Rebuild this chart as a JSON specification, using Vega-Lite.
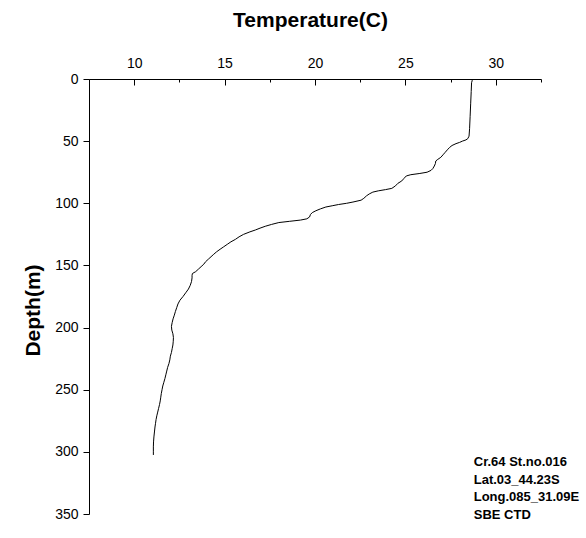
{
  "$schema": "https://vega.github.io/schema/vega-lite/v6.json",
  "width": 452,
  "height": 435,
  "autosize": {"type": "none"},
  "padding": {"left": 89, "top": 79, "right": 45, "bottom": 24},
  "background": "white",
  "config": {
    "view": {"stroke": null},
    "font": "Liberation Sans",
    "axis": {
      "domainColor": "black",
      "domainWidth": 1,
      "tickColor": "black",
      "tickWidth": 1,
      "tickRound": true,
      "labelColor": "black",
      "labelFont": "Liberation Sans",
      "labelFontSize": 14,
      "titleColor": "black",
      "titleFont": "Liberation Sans",
      "titleFontWeight": "bold",
      "titleFontSize": 21,
      "grid": false
    }
  },
  "datasets": {
    "profile": [
      {"depth": 0, "temp": 28.76}, {"depth": 1, "temp": 28.7}, {"depth": 3, "temp": 28.66},
      {"depth": 10, "temp": 28.64}, {"depth": 20, "temp": 28.61}, {"depth": 30, "temp": 28.58},
      {"depth": 40, "temp": 28.55}, {"depth": 46, "temp": 28.52}, {"depth": 48, "temp": 28.45},
      {"depth": 49, "temp": 28.35}, {"depth": 50, "temp": 28.15}, {"depth": 51, "temp": 28.0},
      {"depth": 52, "temp": 27.8}, {"depth": 53.5, "temp": 27.58}, {"depth": 55, "temp": 27.45},
      {"depth": 57, "temp": 27.32}, {"depth": 59, "temp": 27.2}, {"depth": 61, "temp": 27.08},
      {"depth": 63, "temp": 26.96}, {"depth": 65, "temp": 26.76}, {"depth": 66, "temp": 26.68},
      {"depth": 68, "temp": 26.66}, {"depth": 70, "temp": 26.6}, {"depth": 72, "temp": 26.52},
      {"depth": 73.5, "temp": 26.42}, {"depth": 75, "temp": 26.2}, {"depth": 76, "temp": 25.8},
      {"depth": 77, "temp": 25.3}, {"depth": 78, "temp": 25.05}, {"depth": 80, "temp": 24.92},
      {"depth": 82, "temp": 24.8}, {"depth": 84, "temp": 24.58}, {"depth": 86, "temp": 24.45},
      {"depth": 88, "temp": 24.25}, {"depth": 89, "temp": 23.9}, {"depth": 90, "temp": 23.5},
      {"depth": 91, "temp": 23.2}, {"depth": 92.5, "temp": 23.0}, {"depth": 94, "temp": 22.85},
      {"depth": 96, "temp": 22.7}, {"depth": 97.5, "temp": 22.55}, {"depth": 99, "temp": 22.1},
      {"depth": 100, "temp": 21.75}, {"depth": 101, "temp": 21.3}, {"depth": 102, "temp": 20.95},
      {"depth": 103, "temp": 20.6}, {"depth": 104.5, "temp": 20.3}, {"depth": 106, "temp": 20.05},
      {"depth": 107.5, "temp": 19.85}, {"depth": 109, "temp": 19.75}, {"depth": 111, "temp": 19.7},
      {"depth": 112.5, "temp": 19.55}, {"depth": 113.5, "temp": 19.2}, {"depth": 114.5, "temp": 18.6},
      {"depth": 115.5, "temp": 18.0}, {"depth": 117, "temp": 17.6}, {"depth": 118.5, "temp": 17.25},
      {"depth": 120, "temp": 16.96}, {"depth": 121.5, "temp": 16.7}, {"depth": 123, "temp": 16.4},
      {"depth": 125, "temp": 16.05}, {"depth": 127, "temp": 15.8}, {"depth": 129, "temp": 15.6},
      {"depth": 131, "temp": 15.35}, {"depth": 133, "temp": 15.15}, {"depth": 135, "temp": 14.95},
      {"depth": 137, "temp": 14.75}, {"depth": 139, "temp": 14.56}, {"depth": 141, "temp": 14.4},
      {"depth": 143, "temp": 14.25}, {"depth": 145, "temp": 14.1}, {"depth": 147, "temp": 13.95},
      {"depth": 149, "temp": 13.85}, {"depth": 151, "temp": 13.7}, {"depth": 153, "temp": 13.55},
      {"depth": 155, "temp": 13.4}, {"depth": 156.5, "temp": 13.22}, {"depth": 158, "temp": 13.2},
      {"depth": 160, "temp": 13.2}, {"depth": 163, "temp": 13.17}, {"depth": 166, "temp": 13.1},
      {"depth": 169, "temp": 13.0}, {"depth": 172, "temp": 12.85}, {"depth": 175, "temp": 12.7},
      {"depth": 178, "temp": 12.53}, {"depth": 181, "temp": 12.42}, {"depth": 184, "temp": 12.35},
      {"depth": 187, "temp": 12.28}, {"depth": 190, "temp": 12.22}, {"depth": 193, "temp": 12.15},
      {"depth": 196, "temp": 12.1}, {"depth": 199, "temp": 12.06}, {"depth": 202, "temp": 12.08},
      {"depth": 205, "temp": 12.14}, {"depth": 208, "temp": 12.17}, {"depth": 211, "temp": 12.16},
      {"depth": 214, "temp": 12.14}, {"depth": 217, "temp": 12.1}, {"depth": 220, "temp": 12.06},
      {"depth": 223, "temp": 12.0}, {"depth": 226, "temp": 11.97}, {"depth": 229, "temp": 11.92},
      {"depth": 232, "temp": 11.85}, {"depth": 235, "temp": 11.8}, {"depth": 238, "temp": 11.75},
      {"depth": 241, "temp": 11.7}, {"depth": 244, "temp": 11.64}, {"depth": 247, "temp": 11.58},
      {"depth": 250, "temp": 11.54}, {"depth": 253, "temp": 11.5}, {"depth": 256, "temp": 11.47},
      {"depth": 259, "temp": 11.44}, {"depth": 262, "temp": 11.4}, {"depth": 265, "temp": 11.35},
      {"depth": 268, "temp": 11.3}, {"depth": 271, "temp": 11.25}, {"depth": 274, "temp": 11.21},
      {"depth": 277, "temp": 11.18}, {"depth": 280, "temp": 11.15}, {"depth": 284, "temp": 11.12},
      {"depth": 288, "temp": 11.09}, {"depth": 292, "temp": 11.07}, {"depth": 296, "temp": 11.06},
      {"depth": 300, "temp": 11.06}, {"depth": 302.5, "temp": 11.06}
    ],
    "notes": [
      {"label": "Cr.64 St.no.016", "temp": 28.78, "depth": 308.1},
      {"label": "Lat.03_44.23S", "temp": 28.78, "depth": 322.6},
      {"label": "Long.085_31.09E", "temp": 28.78, "depth": 336.3},
      {"label": "SBE CTD", "temp": 28.78, "depth": 350.8}
    ]
  },
  "layer": [
    {
      "data": {"name": "profile"},
      "mark": {"type": "line", "color": "black", "strokeWidth": 1, "clip": false},
      "encoding": {
        "order": {"field": "depth", "type": "quantitative"},
        "x": {
          "field": "temp",
          "type": "quantitative",
          "scale": {"domain": [7.5, 32.5], "nice": false, "zero": false},
          "axis": {
            "orient": "top",
            "title": "Temperature(C)",
            "values": [7.5, 10, 12.5, 15, 17.5, 20, 22.5, 25, 27.5, 30, 32.5],
            "labelExpr": "datum.value % 5 === 0 ? datum.label : ''",
            "tickSize": -6,
            "tickDash": {"condition": {"test": "datum.value % 5 === 0", "value": []}, "value": [3, 20]},
            "labelPadding": 15,
            "labelFlush": false,
            "labelOverlap": false,
            "titleX": 221,
            "titleY": -59,
            "titleBaseline": "middle",
            "titleAlign": "center"
          }
        },
        "y": {
          "field": "depth",
          "type": "quantitative",
          "scale": {"domain": [0, 350], "reverse": true, "nice": false, "zero": false},
          "axis": {
            "title": "Depth(m)",
            "values": [0, 25, 50, 75, 100, 125, 150, 175, 200, 225, 250, 275, 300, 325, 350],
            "labelExpr": "datum.value % 50 === 0 ? datum.label : ''",
            "tickSize": 6,
            "tickDash": {"condition": {"test": "datum.value % 50 === 0", "value": []}, "value": [3, 20]},
            "labelPadding": 5,
            "labelFlush": false,
            "labelOverlap": false,
            "titleX": -56,
            "titleY": 231,
            "titleBaseline": "middle",
            "titleAlign": "center",
            "titleAngle": -90
          }
        }
      }
    },
    {
      "data": {"name": "notes"},
      "mark": {"type": "text", "align": "left", "baseline": "middle", "font": "Liberation Sans", "fontWeight": "bold", "fontSize": 13, "color": "black", "clip": false},
      "encoding": {
        "x": {"field": "temp", "type": "quantitative"},
        "y": {"field": "depth", "type": "quantitative"},
        "text": {"field": "label"}
      }
    }
  ]
}
